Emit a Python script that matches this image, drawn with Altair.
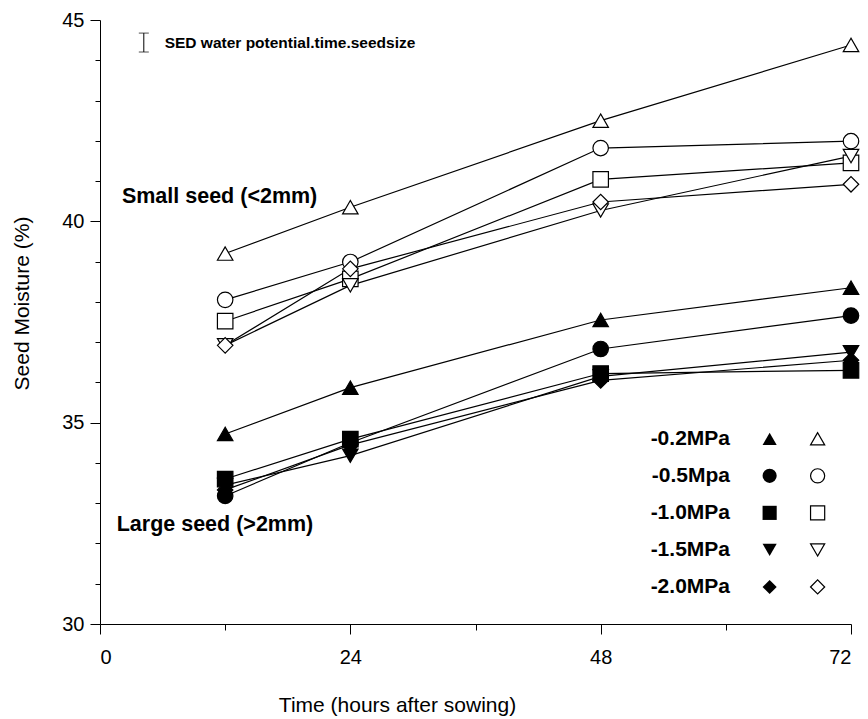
import altair as alt
import pandas as pd

# ---- data ----
hours = [12, 24, 48, 72]
pressures = ["-0.2MPa", "-0.5Mpa", "-1.0MPa", "-1.5MPa", "-2.0MPa"]
shapes = ["triangle-up", "circle", "square", "triangle-down", "diamond"]

small_m02 = [39.2, 40.35, 42.5, 44.38]
small_m05 = [38.05, 38.99, 41.82, 41.99]
small_m10 = [37.52, 38.57, 41.04, 41.45]
small_m15 = [36.92, 38.41, 40.27, 41.62]
small_m20 = [36.92, 38.82, 40.48, 40.92]

large_m02 = [34.72, 35.87, 37.55, 38.35]
large_m05 = [33.18, 34.5, 36.83, 37.66]
large_m10 = [33.6, 34.59, 36.22, 36.3]
large_m15 = [33.45, 34.18, 36.15, 36.75]
large_m20 = [33.33, 34.45, 36.05, 36.55]

sed_value = 0.47

small = [small_m02, small_m05, small_m10, small_m15, small_m20]
large = [large_m02, large_m05, large_m10, large_m15, large_m20]

rows = []
for seed, series in (("Large", large), ("Small", small)):
    for p, vals in zip(pressures, series):
        for h, v in zip(hours, vals):
            rows.append({"time": h, "moist": v, "pressure": p, "seed": seed,
                         "series": seed + p})
df = pd.DataFrame(rows)

leg = pd.DataFrame({"label": pressures, "pressure": pressures,
                    "i": list(range(len(pressures)))})

FONT = "Liberation Sans"

xscale = alt.Scale(domain=[0, 72], nice=False, zero=False)
yscale = alt.Scale(domain=[30, 45], nice=False, zero=False)
shape_scale = alt.Scale(domain=pressures, range=shapes)
fill_scale = alt.Scale(domain=["Large", "Small"], range=["black", "white"])

xaxis = alt.Axis(
    values=list(range(0, 73, 12)),
    labelExpr="datum.value % 24 === 0 ? datum.label : ''",
    tickSize={"condition": {"test": "datum.value % 24 === 0", "value": 10}, "value": 6},
    title="Time (hours after sowing)",
    titleX=297, titleY=81, titleBaseline="middle", titleAlign="center",
    labelPadding=13,
)
yaxis = alt.Axis(
    values=list(range(30, 46)),
    labelExpr="datum.value % 5 === 0 ? datum.label : ''",
    tickSize={"condition": {"test": "datum.value % 5 === 0", "value": 10}, "value": 5},
    title="Seed Moisture (%)",
    titleX=-78, titleY=283, titleBaseline="middle", titleAlign="center",
    labelPadding=6,
)

base = alt.Chart(df)

lines = base.mark_line(color="black", strokeWidth=1.2).encode(
    x=alt.X("time:Q", scale=xscale, axis=xaxis),
    y=alt.Y("moist:Q", scale=yscale, axis=yaxis),
    detail="series:N",
)

points = base.mark_point(size=240, opacity=1, fillOpacity=1, stroke="black",
                         strokeWidth=1.2).encode(
    x="time:Q",
    y="moist:Q",
    shape=alt.Shape("pressure:N", scale=shape_scale, legend=None),
    fill=alt.Fill("seed:N", scale=fill_scale, legend=None),
)

legbase = alt.Chart(leg).transform_calculate(ly="34.6 - datum.i * 0.92")

leg_text = legbase.mark_text(align="right", baseline="middle", font=FONT,
                             fontSize=21, fontWeight="bold", color="black").encode(
    x=alt.datum(60.4), y="ly:Q", text="label:N")

leg_filled = legbase.mark_point(size=200, opacity=1, filled=True, color="black").encode(
    x=alt.datum(64.2), y="ly:Q",
    shape=alt.Shape("pressure:N", scale=shape_scale, legend=None))

leg_open = legbase.mark_point(size=200, opacity=1, fill="white", fillOpacity=1,
                              stroke="black", strokeWidth=1.2).encode(
    x=alt.datum(68.8), y="ly:Q",
    shape=alt.Shape("pressure:N", scale=shape_scale, legend=None))

ann = pd.DataFrame({"t": ["Small seed (<2mm)", "Large seed (>2mm)"],
                    "k": [0, 1]})
ann_text = alt.Chart(ann).transform_calculate(
    ax="datum.k == 0 ? 2.1 : 1.6", ay="datum.k == 0 ? 40.6 : 32.45"
).mark_text(align="left", baseline="middle", font=FONT, fontSize=21.5,
            fontWeight="bold", color="black").encode(
    x="ax:Q", y="ay:Q", text="t:N")

sed = pd.DataFrame({"v": [sed_value], "label": ["SED  water potential.time.seedsize"]})
sedbase = alt.Chart(sed).transform_calculate(lo="44.44 - datum.v / 2", hi="44.44 + datum.v / 2")
sed_rule = sedbase.mark_rule(color="black", strokeWidth=1).encode(
    x=alt.datum(4.2), y="lo:Q", y2="hi:Q")
sed_cap1 = sedbase.mark_tick(color="black", orient="horizontal", size=10, thickness=1).encode(
    x=alt.datum(4.2), y="lo:Q")
sed_cap2 = sedbase.mark_tick(color="black", orient="horizontal", size=10, thickness=1).encode(
    x=alt.datum(4.2), y="hi:Q")
sed_text = sedbase.mark_text(align="left", baseline="middle", font=FONT, fontSize=15.5,
                             fontWeight="bold", color="black").encode(
    x=alt.datum(6.2), y=alt.datum(44.44), text="label:N")

chart = alt.layer(
    lines, points, leg_text, leg_filled, leg_open, ann_text,
    sed_rule, sed_cap1, sed_cap2, sed_text
).properties(
    width=751, height=604,
    autosize=alt.AutoSizeParams(type="none"),
    padding={"left": 100, "top": 20, "right": 17, "bottom": 95},
    background="white",
).configure_view(stroke=None).configure_axis(
    grid=False,
    domainColor="black", tickColor="black", domainWidth=1, tickWidth=1,
    labelFont=FONT, labelFontSize=20, labelColor="black",
    titleFont=FONT, titleFontSize=21, titleFontWeight="normal", titleColor="black",
)

chart.save("out.html", embed_options={"renderer": "svg", "actions": False})
